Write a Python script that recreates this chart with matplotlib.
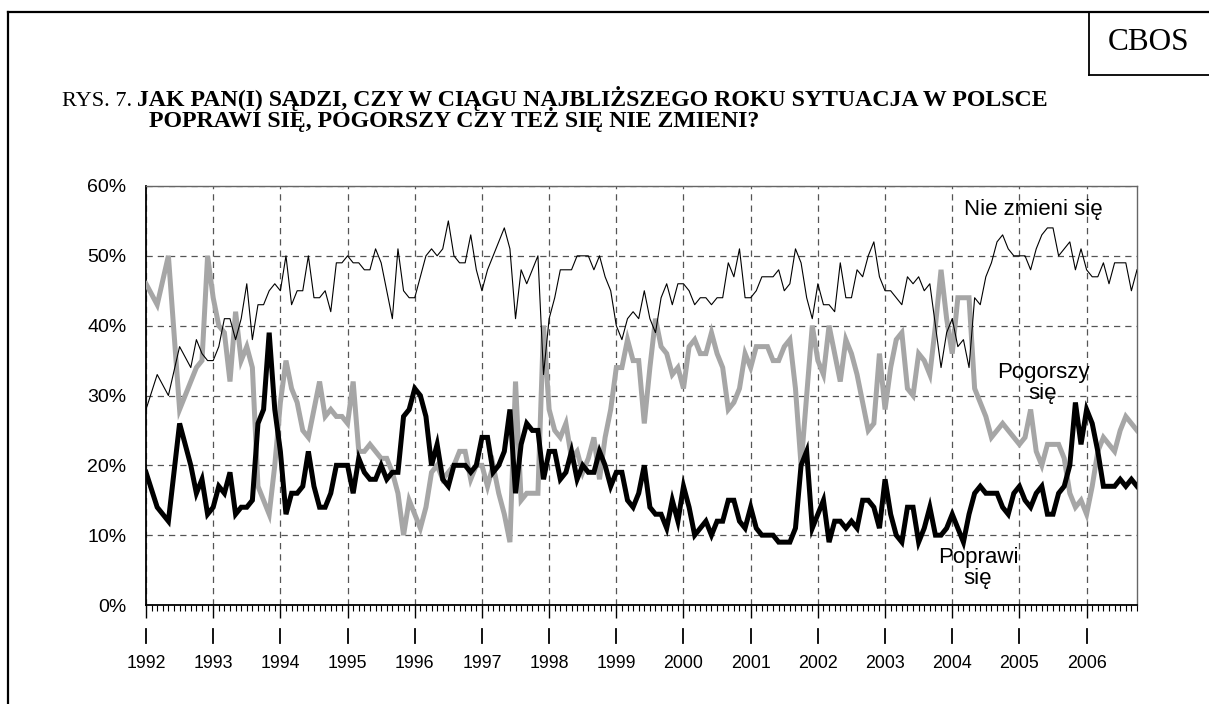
import matplotlib
matplotlib.use("Agg")
import matplotlib.pyplot as plt
from matplotlib.lines import Line2D
import matplotlib.transforms as mtransforms

# survey dates as month index counted from January 1992
months_1992 = [0, 2, 4, 6, 8, 9, 10, 11]
months = months_1992 + list(range(12, 178))

nie_zmieni = [28, 33, 30, 37, 34, 38, 36, 35,
              35, 37, 41, 41, 38, 41, 46, 38, 43, 43, 45, 46,
              45, 50, 43, 45, 45, 50, 44, 44, 45, 42, 49, 49,
              50, 49, 49, 48, 48, 51, 49, 45, 41, 51, 45, 44,
              44, 47, 50, 51, 50, 51, 55, 50, 49, 49, 53, 48,
              45, 48, 50, 52, 54, 51, 41, 48, 46, 48, 50, 33,
              41, 44, 48, 48, 48, 50, 50, 50, 48, 50, 47, 45,
              40, 38, 41, 42, 41, 45, 41, 39, 44, 46, 43, 46,
              46, 45, 43, 44, 44, 43, 44, 44, 49, 47, 51, 44,
              44, 45, 47, 47, 47, 48, 45, 46, 51, 49, 44, 41,
              46, 43, 43, 42, 49, 44, 44, 48, 47, 50, 52, 47,
              45, 45, 44, 43, 47, 46, 47, 45, 46, 40, 34, 39,
              41, 37, 38, 34, 44, 43, 47, 49, 52, 53, 51, 50,
              50, 50, 48, 51, 53, 54, 54, 50, 51, 52, 48, 51,
              48, 47, 47, 49, 46, 49, 49, 49, 45, 48]

pogorszy = [46, 43, 50, 28, 32, 34, 35, 50,
            44, 40, 39, 32, 42, 35, 37, 34, 17, 15, 13, 20,
            29, 35, 31, 29, 25, 24, 28, 32, 27, 28, 27, 27,
            26, 32, 22, 22, 23, 22, 21, 21, 19, 16, 10, 15,
            13, 11, 14, 19, 20, 18, 19, 20, 22, 22, 18, 20,
            20, 17, 20, 16, 13, 9, 32, 15, 16, 16, 16, 40,
            28, 25, 24, 26, 21, 22, 19, 21, 24, 18, 24, 28,
            34, 34, 38, 35, 35, 26, 34, 41, 37, 36, 33, 34,
            31, 37, 38, 36, 36, 39, 36, 34, 28, 29, 31, 36,
            34, 37, 37, 37, 35, 35, 37, 38, 31, 20, 30, 40,
            35, 33, 40, 36, 32, 38, 36, 33, 29, 25, 26, 36,
            28, 34, 38, 39, 31, 30, 36, 35, 33, 40, 48, 41,
            36, 44, 44, 44, 31, 29, 27, 24, 25, 26, 25, 24,
            23, 24, 28, 22, 20, 23, 23, 23, 21, 16, 14, 15,
            13, 17, 22, 24, 23, 22, 25, 27, 26, 25]

poprawi = [19, 14, 12, 26, 20, 16, 18, 13,
           14, 17, 16, 19, 13, 14, 14, 15, 26, 28, 39, 28,
           22, 13, 16, 16, 17, 22, 17, 14, 14, 16, 20, 20,
           20, 16, 21, 19, 18, 18, 20, 18, 19, 19, 27, 28,
           31, 30, 27, 20, 23, 18, 17, 20, 20, 20, 19, 20,
           24, 24, 19, 20, 22, 28, 16, 23, 26, 25, 25, 18,
           22, 22, 18, 19, 22, 18, 20, 19, 19, 22, 20, 17,
           19, 19, 15, 14, 16, 20, 14, 13, 13, 11, 15, 12,
           17, 14, 10, 11, 12, 10, 12, 12, 15, 15, 12, 11,
           14, 11, 10, 10, 10, 9, 9, 9, 11, 20, 22, 11,
           13, 15, 9, 12, 12, 11, 12, 11, 15, 15, 14, 11,
           18, 13, 10, 9, 14, 14, 9, 11, 14, 10, 10, 11,
           13, 11, 9, 13, 16, 17, 16, 16, 16, 14, 13, 16,
           17, 15, 14, 16, 17, 13, 13, 16, 17, 20, 29, 23,
           28, 26, 22, 17, 17, 17, 18, 17, 18, 17]

years = list(range(1992, 2007))
y_ticks = [0, 10, 20, 30, 40, 50, 60]

fig = plt.figure(figsize=(12.09, 7.04), dpi=100)
W, H = 1209.0, 704.0

def fx(px):
    return px / W

def fy(py):
    return 1 - py / H

# outer frame and CBOS box
fig.add_artist(Line2D([fx(8), fx(1209)], [fy(12), fy(12)], color='black', lw=1.6))
fig.add_artist(Line2D([fx(8), fx(8)], [fy(12), fy(704)], color='black', lw=1.6))
fig.add_artist(Line2D([fx(1089), fx(1089)], [fy(12), fy(75)], color='black', lw=1.3))
fig.add_artist(Line2D([fx(1089), fx(1209)], [fy(75), fy(75)], color='black', lw=1.3))
fig.text(fx(1149), fy(43), 'CBOS', family='Liberation Serif', fontsize=22.5,
         ha='center', va='center')

# title (bold part as one two-line text, second line indented)
fig.text(fx(62), fy(101), 'RYS. 7.', family='Liberation Serif', fontsize=16,
         ha='left', va='center')
fig.text(fx(137), fy(86),
         'JAK PAN(I) SĄDZI, CZY W CIĄGU NAJBLIŻSZEGO ROKU SYTUACJA W POLSCE\n'
         '  POPRAWI SIĘ, POGORSZY CZY TEŻ SIĘ NIE ZMIENI?',
         family='Liberation Serif', fontsize=17.2, weight='bold',
         ha='left', va='top', linespacing=0.8)

ax = fig.add_axes([fx(146), fy(605), fx(1137) - fx(146), fy(186) - fy(605)])

ax.plot(months, pogorszy, color='#a6a6a6', lw=3.6, zorder=3, solid_joinstyle='miter')
ax.plot(months, poprawi, color='black', lw=3.6, zorder=4, solid_joinstyle='miter')
ax.plot(months, nie_zmieni, color='black', lw=0.8, zorder=5)

ax.set_xlim(0, 177)
ax.set_ylim(0, 60)

ax.set_yticks(y_ticks)
ax.set_yticklabels([f'{v}%' for v in y_ticks])
ax.set_xticks([12 * i for i in range(len(years))])
ax.set_xticklabels([str(y) for y in years])
ax.set_xticks(range(0, 178), minor=True)

ax.tick_params(axis='y', length=0, pad=14, labelsize=14)
ax.tick_params(axis='x', which='major', direction='out', length=9, width=1,
               pad=27, labelsize=12.8)
ax.tick_params(axis='x', which='minor', direction='out', length=4.5, width=0.8)
for lab in ax.get_xticklabels() + ax.get_yticklabels():
    lab.set_family('Liberation Sans')

ax.grid(True, which='major', color='#555555', linestyle=(0, (5, 4)), lw=0.9)
ax.set_axisbelow(True)
for side in ['top', 'right']:
    ax.spines[side].set_color('#666666')
    ax.spines[side].set_linewidth(1.0)
for side in ['left', 'bottom']:
    ax.spines[side].set_linewidth(1.3)

# short year marks under the axis
trans = mtransforms.blended_transform_factory(ax.transData, ax.transAxes)
for i in range(len(years)):
    ax.plot([12 * i, 12 * i], [-0.057, -0.091], color='black', lw=1.3,
            transform=trans, clip_on=False)

ax.text(158.5, 56.6, 'Nie zmieni się', family='Liberation Sans', fontsize=16,
        ha='center', va='center')
ax.text(160.2, 31.8, 'Pogorszy\nsię', family='Liberation Sans', fontsize=16,
        ha='center', va='center', linespacing=0.95)
ax.text(148.6, 5.3, 'Poprawi\nsię', family='Liberation Sans', fontsize=16,
        ha='center', va='center', linespacing=0.95)

fig.savefig('out.png', dpi=100)
